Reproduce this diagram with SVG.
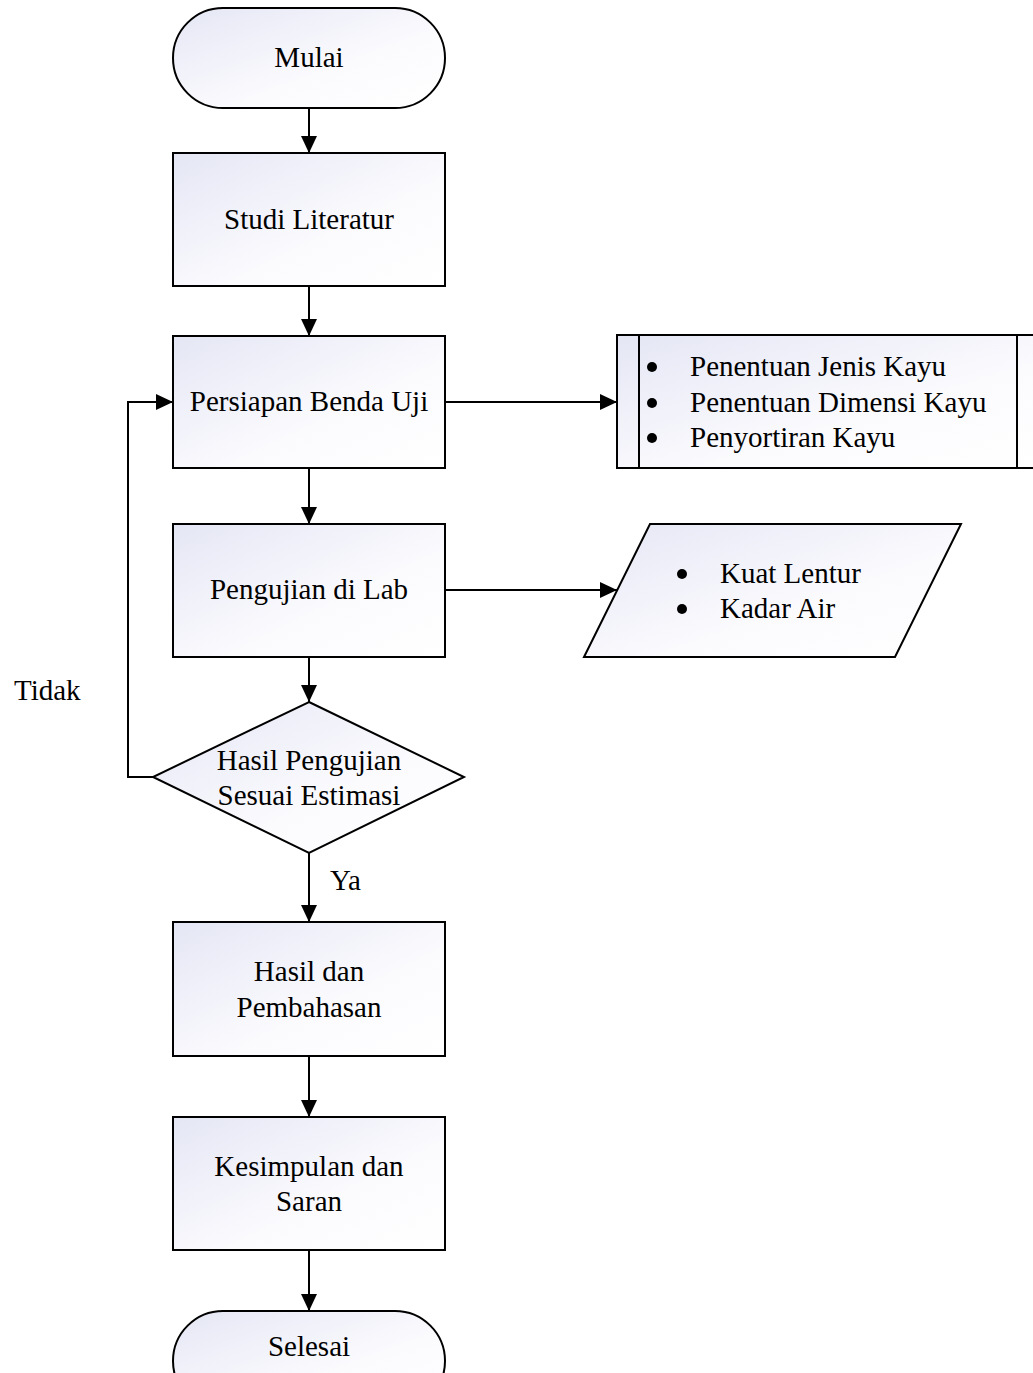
<svg xmlns="http://www.w3.org/2000/svg" width="1033" height="1373" viewBox="0 0 1033 1373">
<style>
.s{stroke:#000;stroke-width:2;fill:url(#g)}
.c{stroke:#000;stroke-width:2;fill:none}
text{font-family:"Liberation Serif","Times New Roman",serif;font-size:29px;fill:#000}
.m{text-anchor:middle}
</style>
<defs>
<linearGradient id="g" x1="0" y1="0" x2="1" y2="1">
<stop offset="0" stop-color="#e4e6f4"/>
<stop offset="0.6" stop-color="#fbfbfe"/>
<stop offset="1" stop-color="#ffffff"/>
</linearGradient>
<marker id="a" viewBox="0 0 17 16" refX="17" refY="8" markerWidth="17" markerHeight="16" markerUnits="userSpaceOnUse" orient="auto">
<path d="M0,0 L17,8 L0,16 Z" fill="#000"/>
</marker>
</defs>
<g id="connectors">
<path class="c" d="M309,108 V153" marker-end="url(#a)"/>
<path class="c" d="M309,286 V336" marker-end="url(#a)"/>
<path class="c" d="M309,468 V524" marker-end="url(#a)"/>
<path class="c" d="M309,657 V702" marker-end="url(#a)"/>
<path class="c" d="M309,853 V922" marker-end="url(#a)"/>
<path class="c" d="M309,1056 V1117" marker-end="url(#a)"/>
<path class="c" d="M309,1250 V1311" marker-end="url(#a)"/>
<path class="c" d="M445,402 H617" marker-end="url(#a)"/>
<path class="c" d="M445,590 H617" marker-end="url(#a)"/>
<path class="c" d="M153,777 H128 V402 H173" marker-end="url(#a)"/>
<text x="14" y="700">Tidak</text>
<text x="330" y="890">Ya</text>
</g>
<g id="mulai">
<rect class="s" x="173" y="8" width="272" height="100" rx="50" ry="50"/>
<text class="m" x="309" y="67">Mulai</text>
</g>
<g id="studi">
<rect class="s" x="173" y="153" width="272" height="133"/>
<text class="m" x="309" y="229">Studi Literatur</text>
</g>
<g id="persiapan">
<rect class="s" x="173" y="336" width="272" height="132"/>
<text class="m" x="309" y="411">Persiapan Benda Uji</text>
</g>
<g id="pengujian">
<rect class="s" x="173" y="524" width="272" height="133"/>
<text class="m" x="309" y="599">Pengujian di Lab</text>
</g>
<g id="keputusan">
<polygon class="s" points="309,702 464,777 309,853 153,777"/>
<text class="m" x="309" y="770">Hasil Pengujian</text>
<text class="m" x="309" y="805">Sesuai Estimasi</text>
</g>
<g id="hasil">
<rect class="s" x="173" y="922" width="272" height="134"/>
<text class="m" x="309" y="981">Hasil dan</text>
<text class="m" x="309" y="1017">Pembahasan</text>
</g>
<g id="kesimpulan">
<rect class="s" x="173" y="1117" width="272" height="133"/>
<text class="m" x="309" y="1176">Kesimpulan dan</text>
<text class="m" x="309" y="1211">Saran</text>
</g>
<g id="selesai">
<rect class="s" x="173" y="1311" width="272" height="100" rx="50" ry="50"/>
<text class="m" x="309" y="1356">Selesai</text>
</g>
<g id="benda-uji-detail">
<rect class="s" x="617" y="335" width="430" height="133"/>
<line class="c" x1="639" y1="335" x2="639" y2="468"/>
<line class="c" x1="1017" y1="335" x2="1017" y2="468"/>
<circle cx="652" cy="367" r="5"/>
<circle cx="652" cy="403" r="5"/>
<circle cx="652" cy="438" r="5"/>
<text x="690" y="376">Penentuan Jenis Kayu</text>
<text x="690" y="412">Penentuan Dimensi Kayu</text>
<text x="690" y="447">Penyortiran Kayu</text>
</g>
<g id="hasil-lab">
<polygon class="s" points="650,524 961,524 895,657 584,657"/>
<circle cx="682" cy="574" r="5"/>
<circle cx="682" cy="609" r="5"/>
<text x="720" y="583">Kuat Lentur</text>
<text x="720" y="618">Kadar Air</text>
</g>
</svg>
